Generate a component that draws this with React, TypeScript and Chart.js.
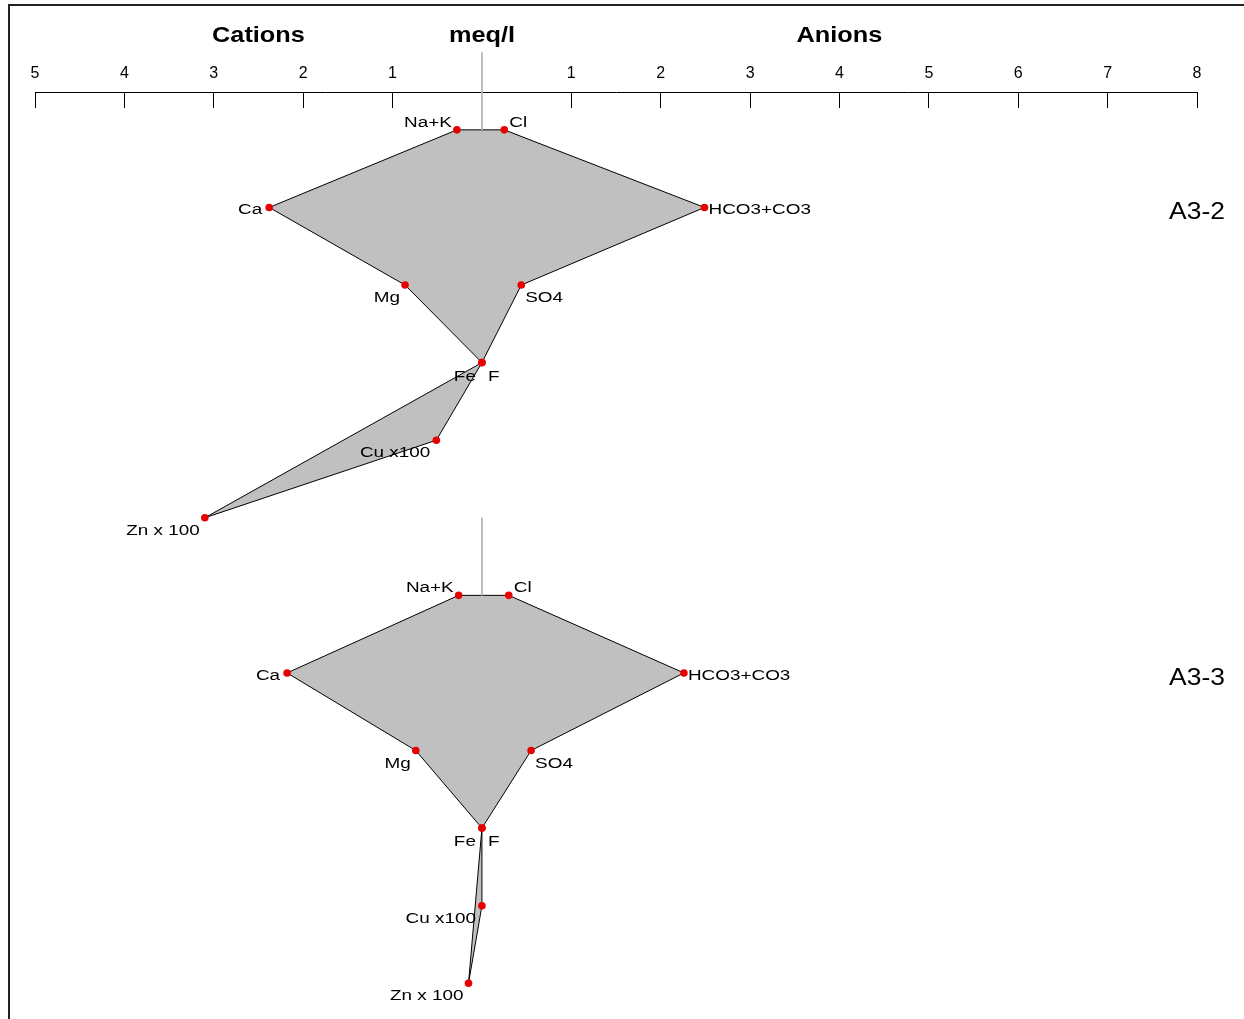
import React, { useEffect, useRef } from "react";
import { Chart, registerables } from "chart.js";

Chart.register(...registerables);

// ---------- data ----------
const sampleNames = ["A3-2", "A3-3"];
const cationLabels = ["Na+K", "Ca", "Mg", "Fe", "Cu x100", "Zn x 100"];
const anionLabels = ["Cl", "HCO3+CO3", "SO4", "F"];
const a32Cations = [0.28, 2.38, 0.86, 0, 0.51, 3.1];
const a32Anions = [0.25, 2.49, 0.44, 0];
const a33Cations = [0.26, 2.18, 0.74, 0, 0, 0.15];
const a33Anions = [0.3, 2.26, 0.55, 0];
const axisTitles = ["Cations", "meq/l", "Anions"];
const axisTitleValues = [-2.5, 0, 4];
const xMin = -5;
const xMax = 8;

const samples = [
  { name: sampleNames[0], cations: a32Cations, anions: a32Anions },
  { name: sampleNames[1], cations: a33Cations, anions: a33Anions },
];
const ROWS = 6;

// ---------- style ----------
const FONT = '"Liberation Sans", Arial, Helvetica, sans-serif';
const catOffsets = [
  { dx: -5, dy: -8 },
  { dx: -7, dy: 2 },
  { dx: -5, dy: 12 },
  { dx: -6, dy: 13 },
  { dx: -6, dy: 12 },
  { dx: -5, dy: 12 },
];
const anOffsets = [
  { dx: 5, dy: -8 },
  { dx: 4, dy: 2 },
  { dx: 4, dy: 12 },
  { dx: 6, dy: 13 },
];

function polygon(cat: number[], an: number[], base: number) {
  const pts: { x: number; y: number }[] = [];
  for (let i = 0; i < 4; i++) pts.push({ x: -cat[i], y: base + i });
  pts.push({ x: -cat[5], y: base + 5 });
  pts.push({ x: -cat[4], y: base + 4 });
  for (let i = 3; i >= 0; i--) pts.push({ x: an[i], y: base + i });
  pts.push({ x: -cat[0], y: base });
  return pts;
}

function stretchedText(
  ctx: CanvasRenderingContext2D,
  text: string,
  x: number,
  y: number,
  align: CanvasTextAlign,
  font: string,
  sx: number
) {
  ctx.save();
  ctx.translate(x, y);
  ctx.scale(sx, 1);
  ctx.font = font;
  ctx.textAlign = align;
  ctx.textBaseline = "alphabetic";
  ctx.fillStyle = "#000";
  ctx.fillText(text, 0, 0);
  ctx.restore();
}

const framePlugin = {
  id: "frame",
  beforeDraw(chart: any) {
    const ctx = chart.ctx;
    ctx.save();
    ctx.fillStyle = "#fff";
    ctx.fillRect(0, 0, chart.width, chart.height);
    ctx.strokeStyle = "#222";
    ctx.lineWidth = 2;
    ctx.beginPath();
    ctx.moveTo(9, chart.height);
    ctx.lineTo(9, 5);
    ctx.lineTo(chart.width, 5);
    ctx.stroke();
    ctx.restore();
  },
};

const labelPlugin = {
  id: "stiffLabels",
  afterDatasetsDraw(chart: any) {
    const ctx = chart.ctx;
    const xs = chart.scales.x;
    const ys = chart.scales.y;
    const small = `14px ${FONT}`;
    samples.forEach((s, si) => {
      const base = si * ROWS;
      s.cations.forEach((v, i) => {
        const px = xs.getPixelForValue(-v);
        const py = ys.getPixelForValue(base + i);
        const o = catOffsets[i];
        stretchedText(ctx, cationLabels[i], px + o.dx, py + o.dy + 5, "right", small, 1.35);
      });
      s.anions.forEach((v, i) => {
        const px = xs.getPixelForValue(v);
        const py = ys.getPixelForValue(base + i);
        const o = anOffsets[i];
        stretchedText(ctx, anionLabels[i], px + o.dx, py + o.dy + 5, "left", small, 1.35);
      });
      stretchedText(
        ctx,
        s.name,
        xs.getPixelForValue(xMax),
        ys.getPixelForValue(base + 1) + 12,
        "center",
        `24px ${FONT}`,
        1.1
      );
    });
    axisTitles.forEach((t, i) => {
      stretchedText(ctx, t, xs.getPixelForValue(axisTitleValues[i]), 42, "center", `bold 22px ${FONT}`, 1.15);
    });
  },
};

export default function App() {
  const ref = useRef<HTMLCanvasElement | null>(null);
  useEffect(() => {
    if (!ref.current) return;
    const datasets: any[] = [];
    samples.forEach((s, si) => {
      const base = si * ROWS;
      const pts = [
        ...s.cations.map((v, i) => ({ x: -v, y: base + i })),
        ...s.anions.map((v, i) => ({ x: v, y: base + i })),
      ];
      datasets.push({
        label: s.name + " points",
        data: pts,
        showLine: false,
        pointRadius: 3.8,
        pointBorderWidth: 0,
        pointBackgroundColor: "#e60000",
        order: 0,
      });
      datasets.push({
        label: s.name + " axis",
        data: [
          { x: 0, y: base - 1 },
          { x: 0, y: base },
        ],
        showLine: true,
        borderColor: "#b4b4b4",
        borderWidth: 1,
        pointRadius: 0,
        clip: false,
        order: 1,
      });
      datasets.push({
        label: s.name,
        data: polygon(s.cations, s.anions, base),
        showLine: true,
        fill: "shape",
        backgroundColor: "#c0c0c0",
        borderColor: "#000",
        borderWidth: 1,
        pointRadius: 0,
        tension: 0,
        order: 2,
      });
    });

    const chart = new Chart(ref.current, {
      type: "scatter",
      data: { datasets },
      options: {
        animation: false,
        responsive: false,
        maintainAspectRatio: false,
        layout: { padding: { left: 35, right: 47, top: 32, bottom: 0 } },
        plugins: {
          legend: { display: false },
          tooltip: { enabled: false },
        },
        scales: {
          x: {
            type: "linear",
            position: "top",
            min: xMin,
            max: xMax,
            afterFit: (scale: any) => {
              scale.height = 60;
            },
            ticks: {
              stepSize: 1,
              autoSkip: false,
              maxRotation: 0,
              padding: 25,
              color: "#000",
              font: { family: FONT, size: 16 },
              callback: (v: any) => (Number(v) === 0 ? "" : String(Math.abs(Number(v)))),
            },
            grid: {
              drawOnChartArea: false,
              drawTicks: true,
              tickLength: -16,
              lineWidth: 1,
              color: (c: any) => (c.tick && c.tick.value === 0 ? "rgba(0,0,0,0)" : "#000"),
            },
            border: { display: true, color: "#000", width: 1 },
          },
          y: {
            type: "linear",
            display: false,
            reverse: true,
            min: -0.488,
            max: 11.409,
          },
        },
      } as any,
      plugins: [framePlugin, labelPlugin],
    });
    return () => chart.destroy();
  }, []);

  return (
    <div style={{ position: "absolute", left: 0, top: 0, width: 1244, height: 1019 }}>
      <canvas ref={ref} width={1244} height={1019} style={{ display: "block" }} />
    </div>
  );
}
